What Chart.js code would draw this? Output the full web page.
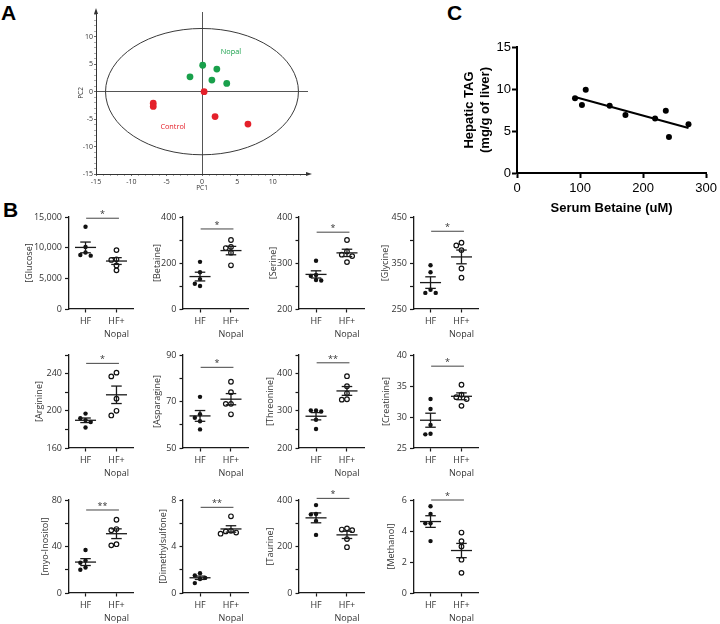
<!DOCTYPE html>
<html>
<head>
<meta charset="utf-8">
<script src="https://cdn.jsdelivr.net/npm/chart.js@4.4.1/dist/chart.umd.min.js"></script>
<style>
  body { margin: 0; background: #fff; width: 720px; height: 624px; position: relative; overflow: hidden; }
  canvas { position: absolute; }
  .letter { position: absolute; font: bold 21px/21px 'Liberation Sans', Arial, sans-serif; color: #000; }
</style>
</head>
<body>
<div class="letter" style="left:1px;top:2px">A</div>
<div class="letter" style="left:3px;top:199px">B</div>
<div class="letter" style="left:447px;top:2px">C</div>
<script>
// ---- panel A: PCA scores ----
const nopalPC1 = [0.1, 2.1, -1.7, 1.4, 3.5];
const nopalPC2 = [4.8, 4.1, 2.7, 2.1, 1.5];
const controlPC1 = [0.3, -6.9, -6.9, 1.85, 6.5];
const controlPC2 = [0.0, -2.1, -2.7, -4.55, -5.9];
const ellipseRx = 13.65;
const ellipseRy = 11.5;

// ---- panel C: serum betaine vs hepatic TAG ----
const serumBetaine = [92, 103, 109, 147, 172, 219, 236, 241, 272];
const hepaticTAG = [8.9, 8.1, 9.9, 8.0, 6.9, 6.5, 7.4, 4.3, 5.8];

// ---- panel B: metabolite concentrations ----
const metabolites = ['Glucose', 'Betaine', 'Serine', 'Glycine', 'Arginine', 'Asparagine',
  'Threonine', 'Creatinine', 'myo-Inositol', 'Dimethylsulfone', 'Taurine', 'Methanol'];
const groupLabels = [['HF'], ['HF+', 'Nopal']];

const glucoseHF = [13400, 10100, 9200, 8800, 8700];
const glucoseNopal = [9600, 8100, 8000, 7100, 6300];
const betaineHF = [205, 160, 130, 110, 100];
const betaineNopal = [300, 270, 265, 245, 190];
const serineHF = [305, 274, 272, 263, 262];
const serineNopal = [350, 325, 318, 315, 302];
const glycineHF = [345, 330, 292, 285, 285];
const glycineNopal = [394, 388, 378, 338, 318];
const arginineHF = [197, 192, 190, 188, 182];
const arginineNopal = [241, 237, 213, 200, 195];
const asparagineHF = [72, 64.5, 63, 61.5, 58];
const asparagineNopal = [78.5, 74, 69, 69, 64.5];
const threonineHF = [301, 301, 298, 276, 251];
const threonineNopal = [393, 366, 347, 331, 330];
const creatinineHF = [32.9, 31.3, 28.7, 27.3, 27.2];
const creatinineNopal = [35.2, 33.6, 33.2, 32.9, 31.8];
const inositolHF = [37, 28, 26, 22, 20];
const inositolNopal = [63, 55, 54, 42, 41];
const dimethylsulfoneHF = [1.7, 1.5, 1.3, 1.2, 0.85];
const dimethylsulfoneNopal = [6.6, 5.35, 5.3, 5.2, 5.1];
const taurineHF = [378, 340, 338, 310, 250];
const taurineNopal = [278, 273, 270, 232, 197];
const methanolHF = [5.6, 5.1, 4.5, 4.5, 3.35];
const methanolNopal = [3.9, 3.35, 3.0, 2.15, 1.3];

const hfSets = [glucoseHF, betaineHF, serineHF, glycineHF, arginineHF, asparagineHF,
  threonineHF, creatinineHF, inositolHF, dimethylsulfoneHF, taurineHF, methanolHF];
const nopalSets = [glucoseNopal, betaineNopal, serineNopal, glycineNopal, arginineNopal, asparagineNopal,
  threonineNopal, creatinineNopal, inositolNopal, dimethylsulfoneNopal, taurineNopal, methanolNopal];

// axis ranges and ticks
const yMin = [0, 0, 200, 250, 160, 50, 200, 25, 0, 0, 0, 0];
const yMax = [15000, 400, 400, 450, 260, 90, 450, 40, 80, 8, 400, 6];
const yMinorStep = [5000, 100, 50, 50, 20, 10, 50, 5, 20, 2, 100, 2];
const yLabelStep = [5000, 200, 100, 100, 40, 20, 100, 5, 40, 4, 200, 2];

// significance marks
const sigText = ['*', '*', '*', '*', '*', '*', '**', '*', '**', '**', '*', '*'];
const sigLevel = [14800, 348, 367, 419, 251, 84.7, 429, 38.2, 71.4, 7.37, 407, 6.0];

// layout (pixels)
const hfCenters = [85.5, 200, 316, 430.5];
const rowTops = [217, 355, 500];
const rowBottoms = [309, 448, 593];
const titleXs = [29.5, 157, 273, 385.5, 39, 157.5, 270, 386, 45, 163, 270, 391.5];

Chart.defaults.font.family = "'Open Sans', sans-serif";
Chart.defaults.animation = false;

function makeCanvas(left, top, w, h) {
  const c = document.createElement('canvas');
  c.width = w; c.height = h;
  c.style.left = left + 'px'; c.style.top = top + 'px';
  c.style.width = w + 'px'; c.style.height = h + 'px';
  document.body.appendChild(c);
  return c;
}

const mean = a => a.reduce((s, v) => s + v, 0) / a.length;
const sem = a => {
  const m = mean(a);
  return Math.sqrt(a.reduce((s, v) => s + (v - m) ** 2, 0) / (a.length - 1)) / Math.sqrt(a.length);
};

// simple beeswarm: place each point at the first free horizontal slot (px offsets)
function spread(values, pxPerUnit) {
  const order = values.map((v, i) => i).sort((a, b) => values[b] - values[a]);
  const offsets = new Array(values.length).fill(0);
  const placed = [];
  const slots = [0, -5.2, 5.2, -10.4, 10.4];
  order.forEach(idx => {
    const py = values[idx] * pxPerUnit;
    const dx = slots.find(s => placed.every(p => Math.hypot(p.x - s, p.y - py) >= 4.8)) ?? 0;
    offsets[idx] = dx;
    placed.push({ x: dx, y: py });
  });
  return offsets;
}

// ---------- Panel A ----------
const pcaDecor = {
  id: 'pcaDecor',
  beforeDatasetsDraw(chart) {
    const { ctx, scales: { x, y }, chartArea } = chart;
    const cx = x.getPixelForValue(0), cy = y.getPixelForValue(0);
    const rx = x.getPixelForValue(ellipseRx) - cx;
    const ry = cy - y.getPixelForValue(ellipseRy);
    ctx.save();
    ctx.strokeStyle = '#3a3a3a';
    ctx.lineWidth = 1;
    ctx.beginPath();
    ctx.ellipse(cx, cy, rx, ry, 0, 0, Math.PI * 2);
    ctx.stroke();
    // axis arrows
    ctx.fillStyle = '#333';
    ctx.beginPath();
    ctx.moveTo(chartArea.left, chartArea.top - 4);
    ctx.lineTo(chartArea.left - 2, chartArea.top + 2);
    ctx.lineTo(chartArea.left + 2, chartArea.top + 2);
    ctx.fill();
    ctx.beginPath();
    ctx.moveTo(chartArea.right + 4, chartArea.bottom);
    ctx.lineTo(chartArea.right - 2, chartArea.bottom - 2);
    ctx.lineTo(chartArea.right - 2, chartArea.bottom + 2);
    ctx.fill();
    // group names
    ctx.font = "7.3px 'Open Sans', sans-serif";
    ctx.textAlign = 'center';
    ctx.textBaseline = 'middle';
    ctx.fillStyle = '#19a04b';
    ctx.fillText('Nopal', x.getPixelForValue(4.1), y.getPixelForValue(7.3));
    ctx.fillStyle = '#e4202a';
    ctx.fillText('Control', x.getPixelForValue(-4.1), y.getPixelForValue(-6.4));
    ctx.restore();
  }
};

const pcaTicks = (lo, hi) => s => {
  const t = [];
  for (let v = lo; v <= hi; v++) t.push({ value: v });
  s.ticks = t;
};
const pcaGrid = {
  drawOnChartArea: true,
  color: c => (c.tick && c.tick.value === 0 ? '#555' : 'rgba(0,0,0,0)'),
  lineWidth: 1,
  tickLength: 2,
  tickColor: c => (c.tick && c.tick.value % 5 === 0 ? '#444' : '#999'),
  tickWidth: 0.8
};

new Chart(makeCanvas(73, 0, 247, 196), {
  type: 'scatter',
  data: {
    datasets: [
      { data: nopalPC1.map((v, i) => ({ x: v, y: nopalPC2[i] })), backgroundColor: '#19a04b', pointRadius: 3.4, borderWidth: 0 },
      { data: controlPC1.map((v, i) => ({ x: v, y: controlPC2[i] })), backgroundColor: '#e4202a', pointRadius: 3.4, borderWidth: 0 }
    ]
  },
  options: {
    responsive: false,
    devicePixelRatio: 1,
    layout: { padding: { left: 0, right: 12, top: 12, bottom: 0 } },
    plugins: { legend: { display: false }, tooltip: { enabled: false } },
    scales: {
      x: {
        type: 'linear', min: -15, max: 15,
        afterBuildTicks: pcaTicks(-15, 14),
        afterFit: s => { s.height = 22; },
        border: { color: '#333', width: 1 },
        grid: pcaGrid,
        ticks: { autoSkip: false, maxRotation: 0, minRotation: 0, padding: 2, color: '#333', font: { size: 7 },
          callback: v => (v % 5 === 0 ? String(v) : '') },
        title: { display: true, text: 'PC1', color: '#333', font: { size: 6.5 } }
      },
      y: {
        type: 'linear', min: -15, max: 14.5,
        afterBuildTicks: pcaTicks(-15, 14),
        afterFit: s => { s.width = 23; },
        border: { color: '#333', width: 1 },
        grid: pcaGrid,
        ticks: { autoSkip: false, padding: 1, color: '#333', font: { size: 7 },
          callback: v => (v % 5 === 0 ? String(v) : '') },
        title: { display: true, text: 'PC2', color: '#333', font: { size: 6.5 } }
      }
    }
  },
  plugins: [pcaDecor]
});

// ---------- Panel C ----------
const bx = mean(serumBetaine), by = mean(hepaticTAG);
const slope = serumBetaine.reduce((s, v, i) => s + (v - bx) * (hepaticTAG[i] - by), 0) /
  serumBetaine.reduce((s, v) => s + (v - bx) ** 2, 0);
const xLo = Math.min(...serumBetaine), xHi = Math.max(...serumBetaine);
const arial = "'Liberation Sans', Arial, sans-serif";

new Chart(makeCanvas(458, 30, 262, 190), {
  type: 'scatter',
  data: {
    datasets: [
      { data: serumBetaine.map((v, i) => ({ x: v, y: hepaticTAG[i] })), backgroundColor: '#000', pointRadius: 3, borderWidth: 0 },
      { type: 'line', data: [{ x: xLo, y: by + slope * (xLo - bx) }, { x: xHi, y: by + slope * (xHi - bx) }],
        borderColor: '#000', borderWidth: 2, pointRadius: 0 }
    ]
  },
  options: {
    responsive: false,
    devicePixelRatio: 1,
    layout: { padding: { left: 0, right: 13, top: 17, bottom: 0 } },
    plugins: { legend: { display: false }, tooltip: { enabled: false } },
    scales: {
      x: {
        type: 'linear', min: 0, max: 300,
        afterFit: s => { s.height = 47; },
        border: { color: '#000', width: 2 },
        grid: { drawOnChartArea: false, tickLength: 5, tickWidth: 2, tickColor: '#000' },
        ticks: { stepSize: 100, padding: 3, color: '#000', font: { family: arial, size: 13 } },
        title: { display: true, text: 'Serum Betaine (uM)', color: '#000', font: { family: arial, size: 13, weight: 'bold' } }
      },
      y: {
        type: 'linear', min: 0, max: 15,
        afterFit: s => { s.width = 59; },
        border: { color: '#000', width: 2 },
        grid: { drawOnChartArea: false, tickLength: 5, tickWidth: 2, tickColor: '#000' },
        ticks: { stepSize: 5, padding: 1, color: '#000', font: { family: arial, size: 13 } },
        title: { display: true, text: ['Hepatic TAG', '(mg/g of liver)'], color: '#000', font: { family: arial, size: 13, weight: 'bold' } }
      }
    }
  }
});

// ---------- Panel B ----------
const statMarks = {
  id: 'statMarks',
  afterDatasetsDraw(chart, args, opts) {
    const { ctx, scales: { x, y } } = chart;
    ctx.save();
    ctx.strokeStyle = '#1a1a1a';
    ctx.lineWidth = 1.3;
    const seg = (x1, y1, x2, y2) => { ctx.beginPath(); ctx.moveTo(x1, y1); ctx.lineTo(x2, y2); ctx.stroke(); };
    opts.groups.forEach((vals, g) => {
      const m = mean(vals), s = sem(vals);
      const ym = y.getPixelForValue(m);
      const yt = y.getPixelForValue(m + s), yb = y.getPixelForValue(m - s);
      const cx = x.getPixelForValue(g);
      seg(x.getPixelForValue(g - 0.34), ym, x.getPixelForValue(g + 0.34), ym);
      seg(cx, yt, cx, yb);
      seg(x.getPixelForValue(g - 0.17), yt, x.getPixelForValue(g + 0.17), yt);
      seg(x.getPixelForValue(g - 0.17), yb, x.getPixelForValue(g + 0.17), yb);
    });
    const ys = y.getPixelForValue(opts.level);
    ctx.strokeStyle = '#444';
    ctx.lineWidth = 1;
    seg(x.getPixelForValue(0.02), ys, x.getPixelForValue(1.08), ys);
    ctx.fillStyle = '#333';
    ctx.font = "9px 'Open Sans', sans-serif";
    ctx.textAlign = 'center';
    ctx.textBaseline = 'alphabetic';
    ctx.fillText(opts.text, x.getPixelForValue(0.55), ys - 1);
    ctx.restore();
  }
};

metabolites.forEach((name, i) => {
  const col = i % 4, row = Math.floor(i / 4);
  const axisX = hfCenters[col] - 17;
  const top = rowTops[row], H = rowBottoms[row] - rowTops[row];
  const left = Math.round(titleXs[i] - 9.4);
  const yW = axisX - left;
  const w = Math.round(yW + 65 + 8);
  const h = 14 + H + 34;
  const pxPerUnit = H / (yMax[i] - yMin[i]);
  const hfOff = spread(hfSets[i], pxPerUnit);
  const npOff = spread(nopalSets[i], pxPerUnit);

  new Chart(makeCanvas(left, top - 14, w, h), {
    type: 'scatter',
    data: {
      datasets: [
        { data: hfSets[i].map((v, k) => ({ x: hfOff[k] / 31, y: v })),
          backgroundColor: '#111', pointRadius: 2.2, borderWidth: 0 },
        { data: nopalSets[i].map((v, k) => ({ x: 1 + npOff[k] / 31, y: v })),
          backgroundColor: '#fff', borderColor: '#111', borderWidth: 1.2, pointRadius: 2.3 }
      ]
    },
    options: {
      responsive: false,
      devicePixelRatio: 1,
      layout: { padding: { left: 0, right: w - yW - 65, top: 14, bottom: 0 } },
      plugins: {
        legend: { display: false }, tooltip: { enabled: false },
        statMarks: { groups: [hfSets[i], nopalSets[i]], level: sigLevel[i], text: sigText[i] }
      },
      scales: {
        x: {
          type: 'linear', min: -0.55, max: 1.55,
          afterBuildTicks: s => { s.ticks = [{ value: 0 }, { value: 1 }]; },
          afterFit: s => { s.height = 34; },
          border: { color: '#1a1a1a', width: 1.3 },
          grid: { drawOnChartArea: false, tickLength: 3.5, tickWidth: 1.2, tickColor: '#1a1a1a' },
          ticks: { autoSkip: false, maxRotation: 0, padding: 2, color: '#333',
            font: { size: 9, lineHeight: 1.45 },
            callback: v => groupLabels[Math.round(v)] }
        },
        y: {
          type: 'linear', min: yMin[i], max: yMax[i],
          afterBuildTicks: s => {
            const t = [];
            for (let v = yMin[i]; v <= yMax[i] + 1e-9; v += yMinorStep[i]) t.push({ value: +v.toFixed(6) });
            s.ticks = t;
          },
          afterFit: s => { s.width = yW; },
          border: { color: '#1a1a1a', width: 1.3 },
          grid: { drawOnChartArea: false, tickLength: 3.5, tickWidth: 1.2, tickColor: '#1a1a1a' },
          ticks: { autoSkip: false, padding: 3, color: '#333', font: { size: 9 },
            callback: v => {
              const k = (v - yMin[i]) / yLabelStep[i];
              if (Math.abs(k - Math.round(k)) > 1e-6) return '';
              return i === 0 ? v.toLocaleString('en-US') : String(v);
            } },
          title: { display: true, text: '[' + name + ']', color: '#333', font: { size: 9 } }
        }
      }
    },
    plugins: [statMarks]
  });
});
</script>
</body>
</html>
